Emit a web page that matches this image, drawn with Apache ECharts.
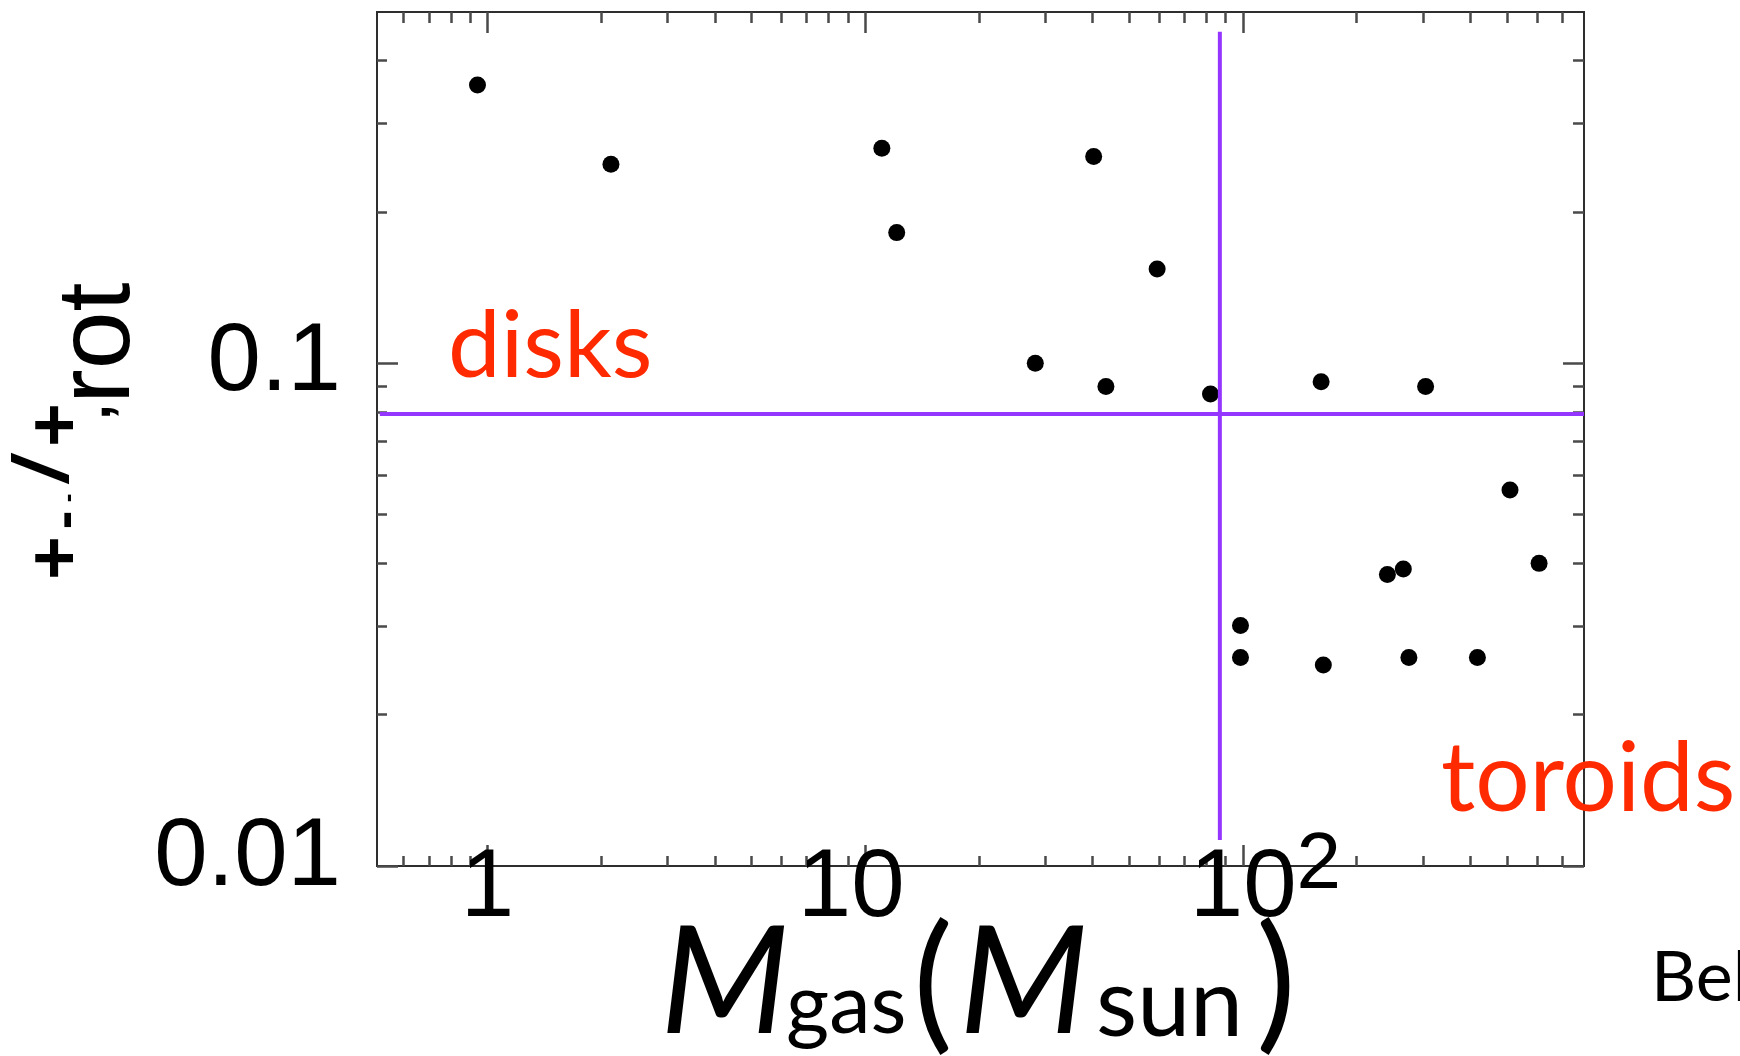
<!DOCTYPE html>
<html>
<head>
<meta charset="utf-8">
<style>
  html, body { margin: 0; padding: 0; background: #fff; }
  #chart { width: 1740px; height: 1056px; }
</style>
<script src="https://cdn.jsdelivr.net/npm/echarts@6/dist/echarts.min.js"></script>
</head>
<body>
<div id="chart"></div>
<script>
// ---- data ----
const massGas  = [0.941, 2.123, 11.07, 12.12, 40.27, 59.29, 28.21, 43.39, 82.08, 161.1,
                  304.6, 509.5, 608.4, 241.3, 265.9, 98.54, 98.54, 163.3, 275.1, 417.7];
const tauRatio = [0.358, 0.249, 0.268, 0.182, 0.258, 0.154, 0.100, 0.0899, 0.0869, 0.0919,
                  0.0899, 0.0560, 0.0400, 0.0380, 0.0390, 0.0301, 0.0260, 0.0251, 0.0260, 0.0260];

const splitMass = 86.9;            // vertical divider (M_sun)
const splitMassRange = [0.01126, 0.457];
const splitRatio = 0.0793;         // horizontal divider
const splitRatioRange = [0.519, 800];

const xRange = [0.51, 800];
const yRange = [0.01, 0.5];

const xMajorTicks = [1, 10, 100];
const xMinorTicks = [0.6, 0.7, 0.8, 0.9, 2, 3, 4, 5, 6, 7, 8, 9,
                     20, 30, 40, 50, 60, 70, 80, 90, 200, 300, 400, 500, 600, 700];
const yMajorTicks = [0.01, 0.1];
const yMinorTicks = [0.02, 0.03, 0.04, 0.05, 0.06, 0.07, 0.08, 0.09, 0.2, 0.3, 0.4];

const xTickLabels = ['{n|1}', '{t|10}', '{c|10}{sup|2}'];
const yTickLabels = ['{lo|0.01}', '{n|0.1}'];

// ---- styles ----
const FRAME = '#2e2e2e';
const TICK = '#4a4a4a';
const PURPLE = '#9436ff';
const RED = '#ff2a00';
const NUMFONT = 'Liberation Sans';
const GILL = 'Lato';
const LBL = 96;

const chart = echarts.init(document.getElementById('chart'), null, { renderer: 'canvas' });

function xAxisDef(pos, ticks, len, withLabels) {
  return {
    type: 'log', logBase: 10, min: xRange[0], max: xRange[1], position: pos,
    axisLine: { show: true, onZero: false, lineStyle: { color: FRAME, width: 2 } },
    axisTick: { show: true, inside: true, length: len, customValues: ticks,
                lineStyle: { color: TICK, width: 2.5 } },
    minorTick: { show: false },
    splitLine: { show: false },
    axisLabel: withLabels ? {
      show: true, customValues: xMajorTicks, margin: -26,
      formatter: function (v) {
        const i = xMajorTicks.findIndex(t => Math.abs(t - v) / t < 1e-6);
        return i >= 0 ? xTickLabels[i] : '';
      },
      rich: {
        n: { fontFamily: NUMFONT, fontSize: LBL, lineHeight: 100, color: '#000' },
        t: { fontFamily: NUMFONT, fontSize: LBL, lineHeight: 100, color: '#000', padding: [0, 28, 0, 0] },
        c: { fontFamily: NUMFONT, fontSize: LBL, lineHeight: 100, color: '#000', padding: [0, 0, 0, 45] },
        sup: { fontFamily: NUMFONT, fontSize: 80, lineHeight: 52, padding: [0, 0, 48, 0], color: '#000' }
      }
    } : { show: false }
  };
}
function yAxisDef(pos, ticks, len, withLabels) {
  return {
    type: 'log', logBase: 10, min: yRange[0], max: yRange[1], position: pos,
    axisLine: { show: true, onZero: false, lineStyle: { color: FRAME, width: 2 } },
    axisTick: { show: true, inside: true, length: len, customValues: ticks,
                lineStyle: { color: TICK, width: 2.5 } },
    minorTick: { show: false },
    splitLine: { show: false },
    axisLabel: withLabels ? {
      show: true, customValues: yMajorTicks, margin: 36,
      formatter: function (v) {
        const i = yMajorTicks.findIndex(t => Math.abs(t - v) / t < 1e-6);
        return i >= 0 ? yTickLabels[i] : '';
      },
      rich: {
        n: { fontFamily: NUMFONT, fontSize: LBL, lineHeight: 100, color: '#000' },
        lo: { fontFamily: NUMFONT, fontSize: LBL, lineHeight: 100, color: '#000', padding: [0, 0, 14, 0] }
      }
    } : { show: false }
  };
}

function rotText(text, x, y, size, opts) {
  opts = opts || {};
  return {
    type: 'text', x: x, y: y, rotation: Math.PI / 2, z: 100, silent: true,
    style: {
      text: text, fill: '#000', fontFamily: opts.family || NUMFONT, fontSize: size,
      fontWeight: opts.weight || 'normal', fontStyle: opts.style || 'normal',
      align: opts.align || 'center', textAlign: opts.align || 'center',
      verticalAlign: 'middle', textVerticalAlign: 'middle'
    }
  };
}
function flatText(text, x, y, size, opts) {
  opts = opts || {};
  return {
    type: 'text', x: x, y: y, z: 100, silent: true,
    style: {
      text: text, fill: opts.color || '#000', fontFamily: opts.family || GILL, fontSize: size,
      fontWeight: opts.weight || 'normal', fontStyle: opts.style || 'normal',
      align: 'left', textAlign: 'left', verticalAlign: 'middle', textVerticalAlign: 'middle'
    }
  };
}

const option = {
  animation: false,
  backgroundColor: '#ffffff',
  grid: { left: 377, right: 156, top: 12, bottom: 190, containLabel: false, outerBoundsMode: 'none' },
  xAxis: [
    xAxisDef('bottom', xMinorTicks, 10, false),
    xAxisDef('bottom', xMajorTicks, 21, true),
    xAxisDef('top', xMinorTicks, 11, false),
    xAxisDef('top', xMajorTicks, 21, false)
  ],
  yAxis: [
    yAxisDef('left', yMinorTicks, 10, false),
    yAxisDef('left', yMajorTicks, 21, true),
    yAxisDef('right', yMinorTicks, 11, false),
    yAxisDef('right', yMajorTicks, 21, false)
  ],
  series: [
    {
      type: 'scatter', xAxisIndex: 0, yAxisIndex: 0, z: 2,
      symbol: 'circle', symbolSize: 17, silent: true,
      itemStyle: { color: '#000', opacity: 1 },
      data: massGas.map((m, i) => [m, tauRatio[i]])
    },
    {
      type: 'line', xAxisIndex: 0, yAxisIndex: 0, z: 3, silent: true,
      showSymbol: false, symbol: 'none',
      lineStyle: { color: PURPLE, width: 4, opacity: 1 },
      data: splitMassRange.map(r => [splitMass, r])
    },
    {
      type: 'line', xAxisIndex: 0, yAxisIndex: 0, z: 3, silent: true,
      showSymbol: false, symbol: 'none',
      lineStyle: { color: PURPLE, width: 4, opacity: 1 },
      data: splitRatioRange.map(m => [m, splitRatio])
    }
  ],
  graphic: { elements: [
    // y-axis title (rendered glyph fragments as in the picture)
    rotText('+', 58.5, 558, 75, { weight: 'bold' }),
    rotText('-', 66.7, 520, 56, { weight: 'bold' }),
    rotText('-', 69, 498, 26, { weight: 'bold' }),
    rotText('/', 46.5, 470.5, 78, { weight: 'bold', style: 'italic' }),
    rotText('+', 58.5, 425, 75, { weight: 'bold' }),
    rotText(',', 94.8, 412, 56, { weight: 'bold' }),
    rotText('rot', 100, 404, 104, { align: 'left' }),
    // x-axis title: M_gas (M_sun)
    flatText('M', 660, 985, 150, { style: 'italic' }),
    flatText('gas', 786, 1006, 83),
    flatText('(', 913, 985, 150),
    flatText('M', 959, 985, 150, { style: 'italic' }),
    flatText('sun', 1096, 1005, 95),
    flatText(')', 1256, 985, 150),
    // annotations
    flatText('disks', 448, 347, 94, { color: RED }),
    flatText('toroids', 1441, 780, 96, { color: RED }),
    flatText('Bel', 1651, 978, 70)
  ] }
};

chart.setOption(option);
</script>
</body>
</html>
